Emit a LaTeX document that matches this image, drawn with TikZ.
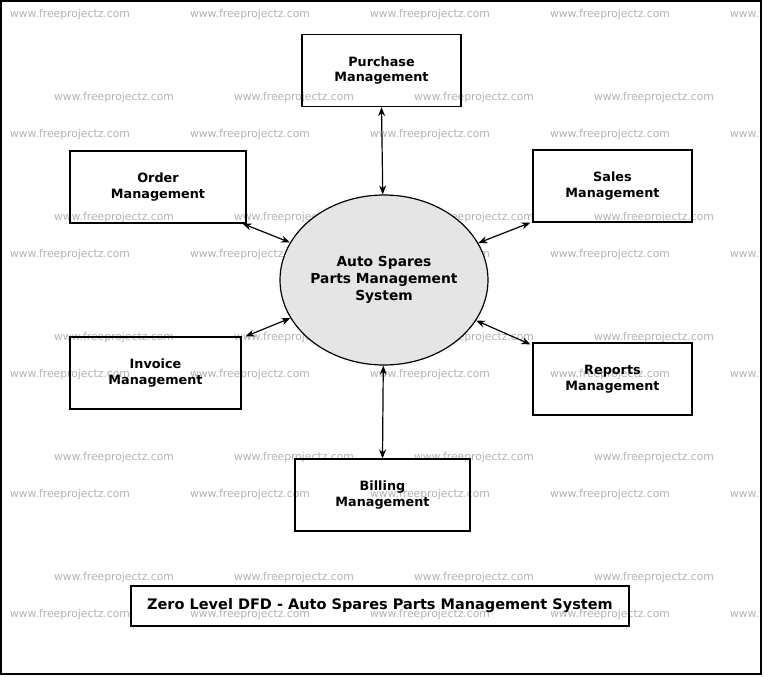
\documentclass[tikz,border=0pt]{standalone}
\usepackage{fontspec}
\setmainfont{DejaVu Sans}
\usetikzlibrary{arrows.meta,shapes.geometric}
\begin{document}
\begin{tikzpicture}[x=1pt,y=-1pt,
 box/.style={draw,line width=1.2pt,minimum width=#1,minimum height=72,inner sep=2pt,align=center,font=\bfseries\fontsize{12.8}{15.5}\selectfont},
 flow/.style={{Stealth[length=9pt,width=7pt]}-{Stealth[length=9pt,width=7pt]},line width=1.2pt},
 wm/.style={text=black!30,font=\fontsize{10.8}{12}\selectfont}]
\useasboundingbox (0,0) rectangle (764,677);
\begin{scope}
\clip (1,1) rectangle (761,674);
\foreach \y in {15,135,255,375,495,615} \foreach \x in {70,250,430,610,790}
  \node[wm] at (\x,\y) {www.freeprojectz.com};
\foreach \y in {98,218,338,458,578} \foreach \x in {114,294,474,654}
  \node[wm] at (\x,\y) {www.freeprojectz.com};
\end{scope}
\draw[line width=1.3pt] (1,1) rectangle (761,674);
\node[draw,line width=1.2pt,fill=black!10,ellipse,minimum width=175,minimum height=170,inner sep=0pt,align=center,font=\bfseries\fontsize{13.8}{17}\selectfont] (c) at (384,280) {Auto Spares\\Parts Management\\System};
\node[box=159] (pur) at (381.5,70.5) {Purchase\\Management};
\node[box=176] (ord) at (158,187) {Order\\Management};
\node[box=159] (sal) at (612.5,186) {Sales\\Management};
\node[box=171] (inv) at (155.5,373) {Invoice\\Management};
\node[box=159] (rep) at (612.5,379) {Reports\\Management};
\node[box=175] (bil) at (382.5,495) {Billing\\Management};
\node[draw,line width=1.2pt,minimum width=498,minimum height=40,font=\bfseries\fontsize{14.5}{17}\selectfont] (t) at (380,606) {Zero Level DFD - Auto Spares Parts Management System};
\draw[flow] (pur.south) -- (c);
\draw[flow] ([xshift=-4pt]ord.south east) -- (c);
\draw[flow] ([xshift=-2pt]sal.south west) -- (c);
\draw[flow] ([xshift=4pt]inv.north east) -- (c);
\draw[flow] ([xshift=-2pt,yshift=-2pt]rep.north west) -- (c);
\draw[flow] (bil.north) -- (c);
\end{tikzpicture}
\end{document}
